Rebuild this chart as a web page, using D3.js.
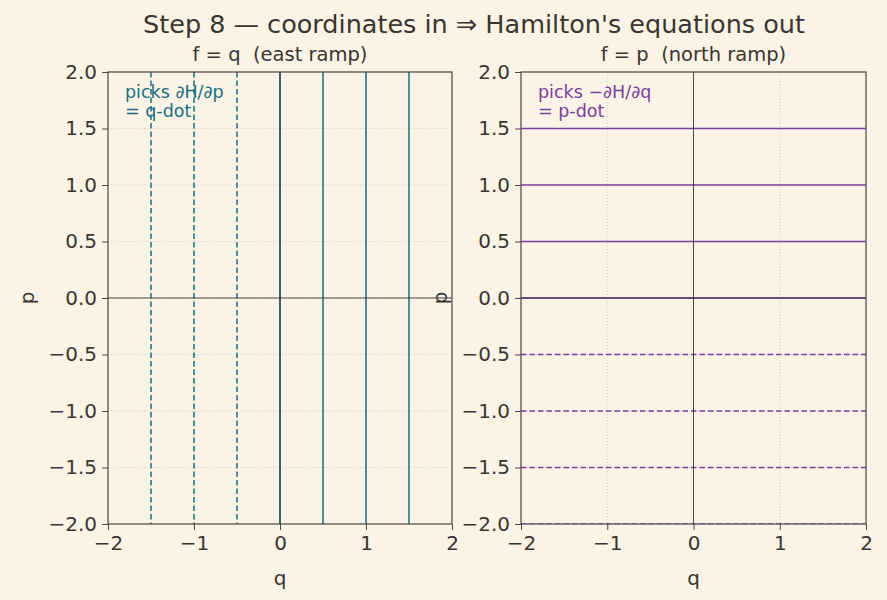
<!DOCTYPE html>
<html><head><meta charset="utf-8">
<script src="https://cdn.jsdelivr.net/npm/d3@7"></script>
<style>
body{margin:0;background:#faf3e6;}
svg{display:block;font-family:"DejaVu Sans",sans-serif;}
text{white-space:pre;}
</style></head><body>
<svg id="c" width="887" height="600"></svg>
<script>
const xTicks = [-2,-1,0,1,2];
const yTicks = [-2,-1.5,-1,-0.5,0,0.5,1,1.5,2];
const leftLevels = [-1.5,-1,-0.5,0,0.5,1,1.5];
const rightLevels = [-2,-1.5,-1,-0.5,0,0.5,1,1.5];
const panelTitles = ["f = q  (east ramp)", "f = p  (north ramp)"];
const notes = [["picks ∂H/∂p","= q-dot"],["picks −∂H/∂q","= p-dot"]];
const colors = ["#1a6f7f","#7b3fa0"];

const svg = d3.select("#c");
const ink = "#3b352f";
const spine = "#4d4740";
const fmtY = d => (d<0?"−":"") + Math.abs(d).toFixed(1);
const fmtX = d => (d<0?"−":"") + Math.abs(d);

svg.append("text").attr("x",474).attr("y",33).attr("text-anchor","middle")
  .style("font-size","25.5px").attr("fill",ink)
  .text("Step 8 — coordinates in ⇒ Hamilton's equations out");

const panels = [{x0:108,x1:452},{x0:521,x1:866}];
const y0 = 72, y1 = 524;

panels.forEach((P,i)=>{
  const x = d3.scaleLinear().domain([-2,2]).range([P.x0,P.x1]);
  const y = d3.scaleLinear().domain([-2,2]).range([y1,y0]);
  const g = svg.append("g");
  const cid = "clip"+i;
  svg.append("clipPath").attr("id",cid).append("rect").attr("x",P.x0).attr("y",y0).attr("width",P.x1-P.x0).attr("height",y1-y0);
  const inner = g.append("g").attr("clip-path",`url(#${cid})`);
  // grid
  inner.selectAll(".gx").data(xTicks).join("line").attr("x1",d=>x(d)).attr("x2",d=>x(d))
    .attr("y1",y0).attr("y2",y1).attr("stroke","#c8c3ba").attr("stroke-width",0.8).attr("stroke-dasharray","1,2");
  inner.selectAll(".gy").data(yTicks).join("line").attr("y1",d=>y(d)).attr("y2",d=>y(d))
    .attr("x1",P.x0).attr("x2",P.x1).attr("stroke","#c8c3ba").attr("stroke-width",0.8).attr("stroke-dasharray","1,2");
  // level lines
  if(i===0){
    inner.selectAll(".lv").data(leftLevels).join("line")
      .attr("x1",d=>x(d)).attr("x2",d=>x(d)).attr("y1",y0).attr("y2",y1)
      .attr("stroke",colors[0]).attr("stroke-width",1.5)
      .attr("stroke-dasharray",d=>d<0?"5.5,3":null);
  } else {
    inner.selectAll(".lv").data(rightLevels).join("line")
      .attr("y1",d=>y(d)).attr("y2",d=>y(d)).attr("x1",P.x0).attr("x2",P.x1)
      .attr("stroke",colors[1]).attr("stroke-width",1.5)
      .attr("stroke-dasharray",d=>d<0?"5.5,3":null);
  }
  // zero lines
  inner.append("line").attr("x1",x(0)).attr("x2",x(0)).attr("y1",y0).attr("y2",y1).attr("stroke","#222").attr("stroke-width",0.8);
  inner.append("line").attr("y1",y(0)).attr("y2",y(0)).attr("x1",P.x0).attr("x2",P.x1).attr("stroke","#222").attr("stroke-width",0.8);
  // axes
  const ax = g.append("g").attr("transform",`translate(0,${y1})`).call(d3.axisBottom(x).tickValues(xTicks).tickFormat(fmtX).tickSize(6).tickPadding(6));
  const ay = g.append("g").attr("transform",`translate(${P.x0},0)`).call(d3.axisLeft(y).tickValues(yTicks).tickFormat(fmtY).tickSize(6).tickPadding(5));
  [ax,ay].forEach(a=>{
    a.attr("font-size",null).attr("font-family",null);
    a.select(".domain").remove();
    a.selectAll("line").attr("stroke",spine).attr("stroke-width",1);
    a.selectAll("text").attr("fill",ink).style("font-size","20px");
  });
  g.append("rect").attr("x",P.x0).attr("y",y0).attr("width",P.x1-P.x0).attr("height",y1-y0)
    .attr("fill","none").attr("stroke",spine).attr("stroke-width",1.2);
  // labels
  g.append("text").attr("x",(P.x0+P.x1)/2).attr("y",585).attr("text-anchor","middle")
    .style("font-size","20px").attr("fill",ink).text("q");
  g.append("text").attr("transform",`translate(${P.x0-74},298) rotate(-90)`).attr("text-anchor","middle")
    .style("font-size","20px").attr("fill",ink).text("p");
  g.append("text").attr("x",(P.x0+P.x1)/2).attr("y",61).attr("text-anchor","middle")
    .style("font-size","19.5px").attr("fill",ink).text(panelTitles[i]);
  const t = g.append("text").attr("x",P.x0+17).attr("y",98).style("font-size","17.5px").attr("fill",colors[i]);
  notes[i].forEach((s,k)=>t.append("tspan").attr("x",P.x0+17).attr("dy",k?19:0).text(s));
});
</script>
</body></html>
